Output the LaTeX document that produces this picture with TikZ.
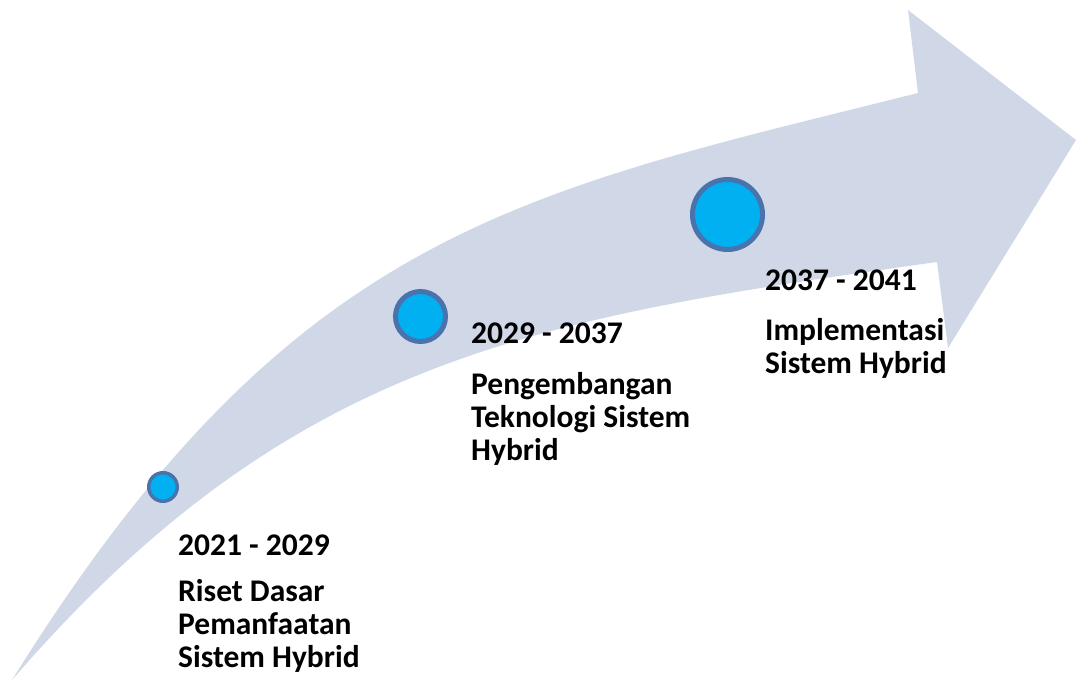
\documentclass[tikz,border=0pt]{standalone}
\usepackage{fontspec}
\setmainfont{Carlito}
\definecolor{arrowfill}{HTML}{D0D8E8}
\definecolor{dotfill}{HTML}{00B0F0}
\definecolor{dotline}{HTML}{4A72AC}
\tikzset{
  milestone/.style={fill=dotfill,draw=dotline},
  yearlabel/.style={anchor=base west,inner sep=0pt,font=\bfseries\fontsize{31.5}{33}\selectfont},
  desclabel/.style={anchor=base west,inner sep=0pt,align=left,font=\bfseries\fontsize{31.5}{33}\selectfont},
}
\begin{document}
\begin{tikzpicture}[x=1pt,y=-1pt]
\useasboundingbox (0,0) rectangle (1076,680);
% curved arrow
\fill[arrowfill] (12,680) .. controls (292,230) and (518,193) .. (918,93)
  -- (908,10) -- (1076,140) -- (948,348) -- (937,262)
  .. controls (537,318) and (292,356) .. (12,680) -- cycle;
% milestones
\draw[milestone,line width=3.5pt] (163,487) circle (14.25);
\draw[milestone,line width=5pt] (420.5,316.5) circle (25);
\draw[milestone,line width=5pt] (727.5,214.5) circle (35);
% labels (base anchor = baseline of the last line)
\node[yearlabel] (y1) at (178,555) {2021 - 2029};
\node[desclabel] (d1) at (178,667) {Riset Dasar\\Pemanfaatan\\Sistem Hybrid};
\node[yearlabel] (y2) at (471,343) {2029 - 2037};
\node[desclabel] (d2) at (471,460) {Pengembangan\\Teknologi Sistem\\Hybrid};
\node[yearlabel] (y3) at (765,290) {2037 - 2041};
\node[desclabel] (d3) at (765,373) {Implementasi\\Sistem Hybrid};
\end{tikzpicture}
\end{document}
